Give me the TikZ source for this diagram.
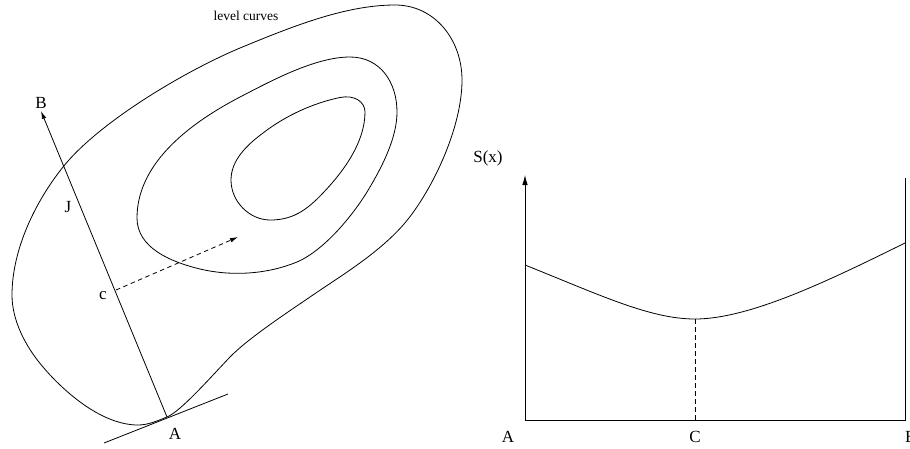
\documentclass[tikz,border=0pt]{standalone}
\usepackage{fontspec}
\setmainfont{Liberation Serif}
\usetikzlibrary{arrows.meta}
\begin{document}
\begin{tikzpicture}[x=1pt,y=-1pt,
  ln/.style={line width=0.8pt},
  lbl/.style={font=\fontsize{17}{19}\selectfont, inner sep=0pt},
  small/.style={font=\fontsize{13.5}{15}\selectfont, inner sep=0pt},
  tip/.style={-{Latex[length=8pt,width=4.5pt]}},
  dsh/.style={dash pattern=on 4.5pt off 3.5pt}]
\useasboundingbox (0,0) rectangle (910,448);
% ---------- left: level curves ----------
% outer curve
\draw[ln] (167,417) .. controls (157,421) and (148,425) .. (138,425)
  .. controls (103,425) and (66,394) .. (43,367)
  .. controls (25,346) and (12,320) .. (12,295)
  .. controls (12,250) and (35,202) .. (63,167)
  .. controls (98,123) and (183,72) .. (240,48)
  .. controls (291,27) and (345,5) .. (395,5)
  .. controls (435,5) and (462,40) .. (462,80)
  .. controls (462,130) and (430,194) .. (404,224)
  .. controls (378,254) and (339,277) .. (310,297)
  .. controls (285,314) and (247.5,339) .. (230,357)
  .. controls (209,379) and (181,411) .. cycle;
% middle curve
\draw[ln] (137,218) .. controls (137,248) and (171,262) .. (200,269)
  .. controls (234,277) and (269,273.5) .. (297,262)
  .. controls (325,250) and (355,213) .. (370,187)
  .. controls (383,165) and (397,137) .. (397,112)
  .. controls (397,82) and (380,57) .. (350,57)
  .. controls (315,57) and (271,81) .. (240,97)
  .. controls (196,120) and (137,160) .. cycle;
% inner curve
\draw[ln] (340,97.5) .. controls (354.7,94.5) and (365,102) .. (365,112)
  .. controls (365,142) and (344,171) .. (323,193)
  .. controls (306,211) and (292,220) .. (270,220)
  .. controls (250,220) and (231,202) .. (231,180)
  .. controls (231,160) and (247,145) .. (263,133)
  .. controls (287,114.5) and (315.5,102.5) .. cycle;
\coordinate (A) at (167,417);
\coordinate (Btip) at (41,111);
\coordinate (T1) at (104,443);
\coordinate (T2) at (228,394);
\coordinate (C0) at (116,290);
\coordinate (Dtip) at (238,237);
\draw[ln,tip] (A) -- (Btip);
\draw[ln] (T1) -- (T2);
\draw[ln,dsh,tip] (C0) -- (Dtip);
\node[lbl] (lA) at (175,434) {A};
\node[lbl] (lB) at (41,103) {B};
\node[lbl] (lJ) at (68,207) {J};
\node[lbl] (lc) at (103,296) {c};
\node[small] (lev) at (246,16) {level curves};
% ---------- right: S(x) ----------
\coordinate (O) at (525,420);
\coordinate (Ytip) at (525,175);
\coordinate (R0) at (905,420);
\coordinate (R1) at (905,178);
\coordinate (Cb) at (695,420);
\coordinate (Cm) at (695,319);
\draw[ln,-{Latex[length=10pt,width=5.5pt]}] (O) -- (Ytip);
\draw[ln] (O) -- (R0) -- (R1);
\draw[ln] (525,265) .. controls (600,295) and (650,319) .. (Cm)
          .. controls (750,319) and (830,280) .. (905,243);
\draw[ln,dsh] (Cm) -- (Cb);
\node[lbl] (Sx) at (488,158) {S(x)};
\node[lbl] (rA) at (508,437) {A};
\node[lbl] (rC) at (695,437) {C};
\node[lbl, anchor=west] (rB) at (905,437) {B};
\end{tikzpicture}
\end{document}
